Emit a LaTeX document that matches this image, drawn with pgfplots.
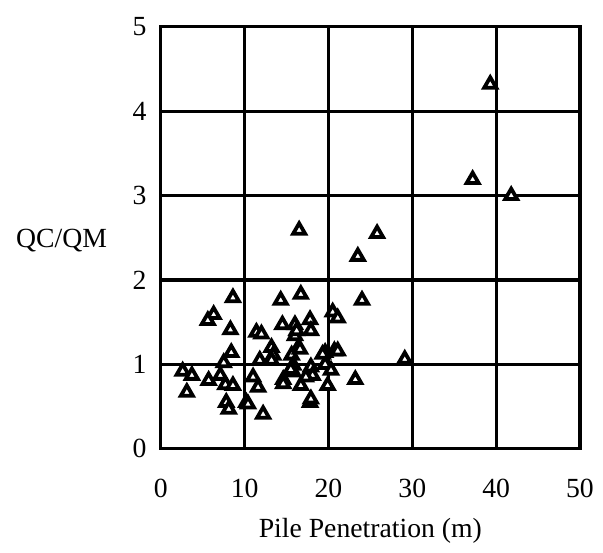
\documentclass[border=0pt]{standalone}
\usepackage{pgfplots}
\pgfplotsset{compat=1.18}
\usepackage{fontspec}
\setmainfont{Liberation Serif}
\begin{document}
\fontsize{28}{30}\selectfont
\begin{tikzpicture}
\begin{axis}[
  name=ax,
  scale only axis,
  width=422bp, height=425bp,
  xmin=0, xmax=50, ymin=0, ymax=5,
  xtick={0,10,20,30,40,50},
  ytick={0,1,2,3,4,5},
  major tick length=0pt,
  grid=major,
  grid style={black, line width=3.2bp},
  axis line style={black, line width=3.2bp},
  /pgf/number format/assume math mode=true,
  ticklabel style={font=\fontsize{28}{30}\selectfont},
  yticklabel style={anchor=east, xshift=-5bp},
  xticklabel style={anchor=north, yshift=-21bp},
  xlabel={Pile Penetration (m)},
  xlabel style={font=\fontsize{28}{30}\selectfont, yshift=-2bp},
  ylabel={QC/QM},
  ylabel style={font=\fontsize{28}{30}\selectfont, rotate=-90, at={(rel axis cs:-0.237,0.494)}, anchor=center},
  clip=false,
]
\addplot[only marks, mark=triangle*, mark size=7pt, mark options={fill=white, draw=black, line width=3.8bp}] coordinates {
(16.5,2.59) (23.5,2.28) (25.8,2.55) (24.0,1.76) (29.1,1.06) (23.2,0.82)
(39.3,4.32) (37.2,3.19) (41.8,3.00)
(8.6,1.79) (6.3,1.59) (5.6,1.52) (8.3,1.41) (8.4,1.14) (7.5,1.02)
(2.6,0.92) (3.7,0.87) (5.7,0.81) (7.1,0.87) (3.1,0.67) (7.7,0.76)
(8.6,0.75) (7.8,0.55) (8.1,0.47) (10.2,0.55)
(14.3,1.76) (16.7,1.83) (20.5,1.62) (21.1,1.55) (11.4,1.38) (12.0,1.36)
(14.5,1.47) (16.0,1.47) (17.8,1.53) (17.9,1.40) (16.0,1.34) (16.4,1.20)
(13.2,1.20) (13.4,1.11) (11.8,1.05) (15.6,1.11) (15.8,0.99) (15.8,0.91)
(14.6,0.82) (14.6,0.77) (17.9,0.97) (18.1,0.87) (16.7,0.75) (19.6,1.14)
(19.6,1.00) (20.7,1.16) (20.3,0.93) (19.9,0.75) (11.0,0.85) (11.6,0.73)
(10.4,0.53) (12.2,0.41) (17.8,0.55) (16.6,1.18) (17.3,0.85) (21.1,1.16)
(19.3,1.12) (15.5,0.94) (13.2,1.05) (17.9,0.59) (16.2,1.40)
};
\end{axis}
\path (ax.south west) ++(-162bp,-98bp) rectangle ++(603bp,550bp);
\end{tikzpicture}
\end{document}
